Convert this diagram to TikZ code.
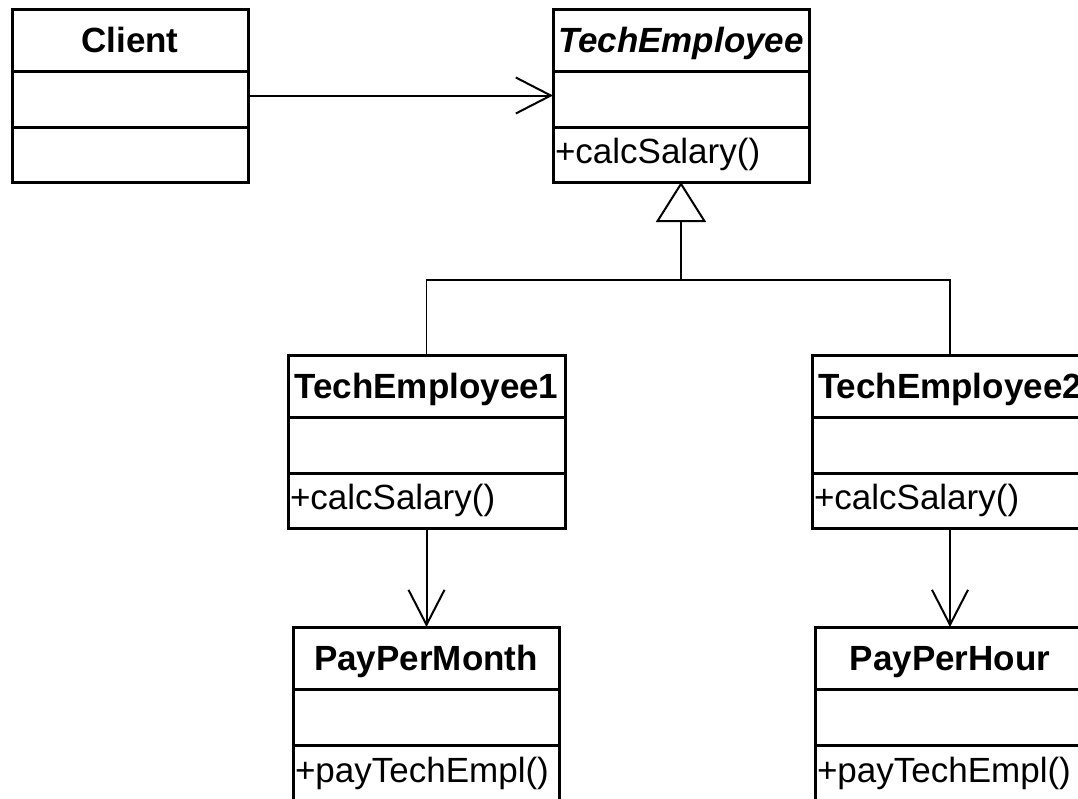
\documentclass[tikz,border=0pt]{standalone}
\usepackage{fontspec}
\setmainfont{Liberation Sans}
\usetikzlibrary{arrows.meta,shapes.multipart}
\newcommand{\titlestrut}{\rule[-8.75pt]{0pt}{29.5pt}}
\newcommand{\attrstrut}{\rule{0pt}{26.5pt}}
\newcommand{\opstrut}{\rule[-8.5pt]{0pt}{26pt}}
\newcommand{\lastopstrut}{\rule[-11pt]{0pt}{29pt}}

\begin{document}
\begin{tikzpicture}[x=0.5pt,y=-0.5pt,umlclass/.style={rectangle split,rectangle split parts=3,draw,line width=1.5pt,rectangle split part align={center,left,left},inner xsep=1pt,inner ysep=0pt,outer sep=0pt,anchor=north west,font=\fontsize{17.5}{21}\selectfont},dependency/.style={line width=1pt,-{Straight Barb[length=17.5pt,width=18pt]}},inherit/.style={line width=0.8pt}]
\useasboundingbox (0,0) rectangle (1078,799);
\clip (0,0) rectangle (1078,799);
\node[umlclass,minimum width=118pt] (client) at (12,9) {\titlestrut\textbf{Client}\nodepart{two}\attrstrut\nodepart{three}\opstrut};
\node[umlclass,minimum width=128pt] (tech) at (553,9) {\titlestrut\textbf{\textit{TechEmployee}}\nodepart{two}\attrstrut\nodepart{three}\opstrut+calcSalary()};
\node[umlclass,minimum width=138.5pt] (tech1) at (288,355) {\titlestrut\textbf{TechEmployee1}\nodepart{two}\attrstrut\nodepart{three}\opstrut+calcSalary()};
\node[umlclass,minimum width=138pt] (tech2) at (812,355) {\titlestrut\textbf{TechEmployee2}\nodepart{two}\attrstrut\nodepart{three}\opstrut+calcSalary()};
\node[umlclass,minimum width=133pt] (month) at (293,627) {\titlestrut\textbf{PayPerMonth}\nodepart{two}\attrstrut\nodepart{three}\lastopstrut+payTechEmpl()};
\node[umlclass,minimum width=135pt] (hour) at (815,627) {\titlestrut\textbf{PayPerHour}\nodepart{two}\attrstrut\nodepart{three}\lastopstrut+payTechEmpl()};
\coordinate (fork) at (681,280);
\draw[dependency] (client.east) -- (client.east -| tech.west);
\draw[inherit] (tech1.north) |- (fork) -| (tech2.north);
\draw[inherit,-{Triangle[open,length=20pt,width=25pt,line width=1pt]}] (fork) -- (tech.south);
\draw[dependency] (tech1.south) -- (tech1.south |- month.north);
\draw[dependency] (tech2.south) -- (tech2.south |- hour.north);
\end{tikzpicture}
\end{document}
